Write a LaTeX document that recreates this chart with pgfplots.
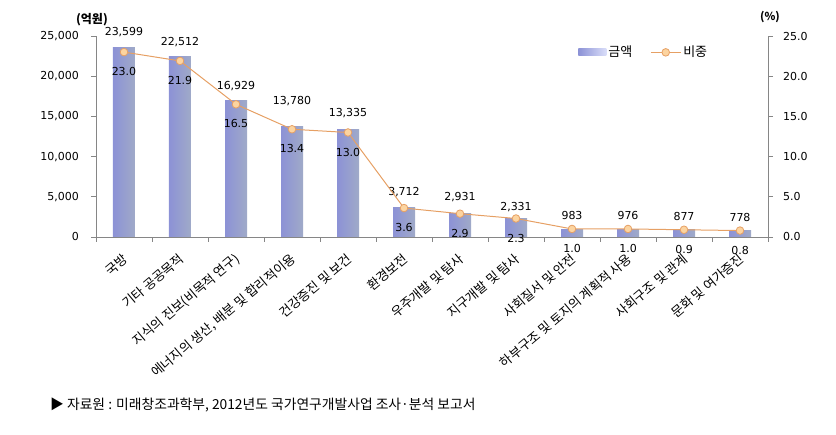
\documentclass[border=0pt]{standalone}
\usepackage{pgfplots}
\pgfplotsset{compat=1.18}
\usepackage{fontspec}
\setmainfont{DejaVu Sans}
\newfontfamily\kr{Noto Sans CJK KR}

\definecolor{axisgray}{RGB}{134,134,134}
\definecolor{barL}{RGB}{140,146,214}
\definecolor{barM}{RGB}{218,222,249}
\definecolor{barR}{RGB}{160,170,200}
\definecolor{lineor}{RGB}{230,160,100}
\definecolor{markfill}{RGB}{252,212,160}

% x, amount (100M won), label lift, share (%)
\pgfplotstableread{
x amount dy share
0 23599 10 23.0
1 22512 9 21.9
2 16929 10 16.5
3 13780 20 13.4
4 13335 12 13.0
5 3712 10 3.6
6 2931 11 2.9
7 2331 6 2.3
8 983 9 1.0
9 976 9 1.0
10 877 9 0.9
11 778 9 0.8
}\data

\begin{document}
\begin{tikzpicture}
\path[use as bounding box] (-96pt,-198pt) rectangle (740pt,237pt);

\pgfplotsset{
  common/.style={
    at={(0,0)}, anchor=south west,
    scale only axis, width=672pt, height=201pt,
    xmin=-0.5, xmax=11.5,
    axis line style={axisgray, line width=0.8pt},
    tick style={axisgray, line width=0.8pt},
    tick align=outside,
    major tick length=5pt,
    /pgf/number format/assume math mode=true,
    tick label style={font=\fontsize{11}{12}\selectfont, text=black},
  }
}

\begin{axis}[common,
  ymin=0, ymax=25000,
  axis y line*=left, axis x line*=bottom,
  xtick={0,...,11},
  major x tick style={draw=none},
  minor xtick={-0.5,0.5,...,11.5},
  minor tick length=5pt,
  minor x tick style={axisgray, line width=0.8pt},
  xticklabels={국방, 기타 공공목적, 지식의 진보(비목적 연구), {에너지의 생산, 배분 및 합리적이용},
    건강증진 및 보건, 환경보전, 우주개발 및 탐사, 지구개발 및 탐사, 사회질서 및 안전,
    하부구조 및 토지의 계획적 사용, 사회구조 및 관계, 문화 및 여가증진},
  xticklabel style={font=\kr\fontsize{13}{13}\selectfont, inner sep=0pt,
    xshift=2pt, yshift=-15pt, rotate=40, anchor=east},
  ytick={0,5000,...,25000},
  scaled y ticks=false,
  yticklabel style={/pgf/number format/fixed, /pgf/number format/1000 sep={,},
    inner sep=0pt, xshift=-12pt},
  legend style={at={(0.713,0.97)}, anchor=north west, draw=none, fill=none,
    legend columns=2, font=\kr\fontsize{13}{13}\selectfont,
    /tikz/every even column/.append style={column sep=16pt},
    legend cell align=left},
]
% one plot per bar so that every bar gets its own gradient
\pgfplotsinvokeforeach{0,...,11}{
\addplot[ybar, bar width=22pt, bar shift=0pt, draw=none, forget plot,
  left color=barL, middle color=barM, right color=barR,
  restrict x to domain=#1:#1,
  point meta=y,
  nodes near coords={\pgfmathprintnumber[fixed,precision=0,1000 sep={,}]{\pgfplotspointmeta}},
  visualization depends on={\thisrow{dy} \as \dy},
  every node near coord/.append style={anchor=south, inner sep=0pt, yshift=\dy pt,
    text=black, font=\fontsize{11}{12}\selectfont},
] table[x=x, y=amount] {\data};
}
\addlegendimage{legend image code/.code={\path[draw=none, left color=barL, right color=barM]
    (0pt,-3.5pt) rectangle (28pt,3.5pt);}}
\addlegendentry{금액}
\addlegendimage{legend image code/.code={
    \draw[lineor, line width=1pt] (0pt,0pt) -- (30pt,0pt);
    \draw[draw=lineor, fill=markfill, line width=0.8pt] (15pt,0pt) circle (3.8pt);}}
\addlegendentry{비중}
\end{axis}

\begin{axis}[common,
  ymin=0, ymax=25,
  axis y line*=right, axis x line=none,
  ytick={0,5,...,25},
  yticklabel style={/pgf/number format/fixed, /pgf/number format/fixed zerofill,
    /pgf/number format/precision=1, inner sep=0pt, xshift=10pt},
]
\addplot[lineor, line width=1pt, mark=*, mark size=3.8pt,
  mark options={fill=markfill, draw=lineor, line width=0.8pt},
  point meta=y,
  nodes near coords={\pgfmathprintnumber[fixed,fixed zerofill,precision=1]{\pgfplotspointmeta}},
  every node near coord/.append style={anchor=north, inner sep=0pt, yshift=-15pt,
    text=black, font=\fontsize{11}{12}\selectfont},
] table[x=x, y=share] {\data};
\end{axis}

\node[font=\kr\bfseries\fontsize{12}{12}\selectfont] at (-4pt,217pt) {(억원)};
\node[font=\kr\bfseries\fontsize{11}{12}\selectfont] at (674pt,220pt) {(\%)};
\node[anchor=west, inner sep=0pt, font=\kr\fontsize{13.8}{14}\selectfont] at (-46pt,-168pt)
  {▶ 자료원 : 미래창조과학부, 2012년도 국가연구개발사업 조사·분석 보고서};
\end{tikzpicture}
\end{document}
